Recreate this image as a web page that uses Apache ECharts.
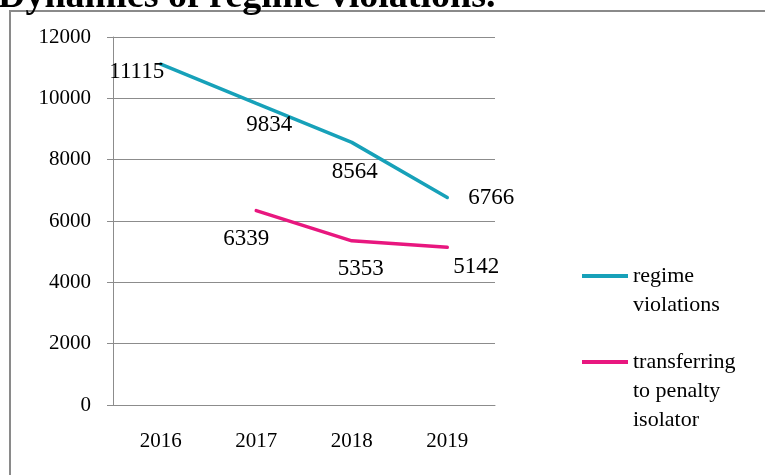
<!DOCTYPE html>
<html>
<head>
<meta charset="utf-8">
<script src="https://cdn.jsdelivr.net/npm/echarts@6/dist/echarts.min.js"></script>
<style>
  html, body { margin: 0; padding: 0; background: #fff; }
  #chart { width: 765px; height: 475px; }
</style>
</head>
<body>
<div id="chart"></div>
<script>
// 数据
var years = ['2016', '2017', '2018', '2019'];
var regimeViolations = [11115, 9834, 8564, 6766];
var penaltyIsolator = [null, 6339, 5353, 5142];
var yTicks = { min: 0, max: 12000, interval: 2000 };

// 数据标签偏移（样式，不是数据）
var regimeOffsets = [[-24, 8], [13, 22], [3, 30], [44, 0]];
var isolatorOffsets = [null, [-10, 28], [9, 28], [29, 20]];

var serif = '"Liberation Serif", "DejaVu Serif", serif';
var blue = '#17a1b9';
var pink = '#e8177f';

function withLabels(values, offsets) {
    return values.map(function (v, i) {
        if (v == null) return null;
        return { value: v, label: { offset: offsets[i] } };
    });
}

// 图例文字：前面补空行，让第一行与图例线对齐
var legendText = {
    'regime violations': ' \nregime\nviolations',
    'transferring to penalty isolator': ' \n \ntransferring\nto penalty\nisolator'
};

var chart = echarts.init(document.getElementById('chart'));

var legendBase = {
    orient: 'vertical',
    left: 582,
    padding: 0,
    icon: 'rect',
    itemWidth: 46,
    itemHeight: 4,
    itemGap: 0,
    formatter: function (name) { return legendText[name]; },
    textStyle: { fontFamily: serif, fontSize: 22, lineHeight: 29, color: '#000' }
};

var option = {
    animation: false,
    title: {
        text: 'Dynamics of regime violations.',
        left: -2,
        top: -22,
        padding: 0,
        textStyle: { fontFamily: serif, fontSize: 38, fontWeight: 'bold', color: '#000' }
    },
    graphic: [{
        type: 'rect',
        z: -1,
        shape: { x: 10, y: 11, width: 800, height: 520 },
        style: { fill: null, stroke: '#8a8a8a', lineWidth: 2 }
    }],
    grid: { left: 113, right: 270, top: 37, bottom: 70 },
    legend: [
        Object.assign({}, legendBase, { top: 232.5, data: ['regime violations'] }),
        Object.assign({}, legendBase, { top: 289.5, data: ['transferring to penalty isolator'] })
    ],
    xAxis: {
        type: 'category',
        data: years,
        boundaryGap: true,
        axisLine: { lineStyle: { color: '#8c8c8c', width: 1 } },
        axisTick: { length: 8, lineStyle: { color: '#8c8c8c' } },
        axisLabel: { fontFamily: serif, fontSize: 21, color: '#000', margin: 26 }
    },
    yAxis: {
        type: 'value',
        min: yTicks.min,
        max: yTicks.max,
        interval: yTicks.interval,
        axisLine: { show: true, lineStyle: { color: '#8c8c8c', width: 1 } },
        axisTick: { show: true, length: 6, lineStyle: { color: '#8c8c8c' } },
        axisLabel: {
            fontFamily: serif, fontSize: 21, color: '#000', margin: 22,
            formatter: function (v) { return String(v); }
        },
        splitLine: { lineStyle: { color: '#8c8c8c', width: 1 } }
    },
    series: [{
        name: 'regime violations',
        type: 'line',
        data: withLabels(regimeViolations, regimeOffsets),
        symbol: 'circle',
        symbolSize: 1,
        itemStyle: { color: blue },
        lineStyle: { color: blue, width: 3.5, cap: 'round' },
        label: { show: true, position: 'inside', fontFamily: serif, fontSize: 23, color: '#000' }
    }, {
        name: 'transferring to penalty isolator',
        type: 'line',
        data: withLabels(penaltyIsolator, isolatorOffsets),
        connectNulls: false,
        symbol: 'circle',
        symbolSize: 1,
        itemStyle: { color: pink },
        lineStyle: { color: pink, width: 3.5, cap: 'round' },
        label: { show: true, position: 'inside', fontFamily: serif, fontSize: 23, color: '#000' }
    }]
};

chart.setOption(option);
</script>
</body>
</html>
